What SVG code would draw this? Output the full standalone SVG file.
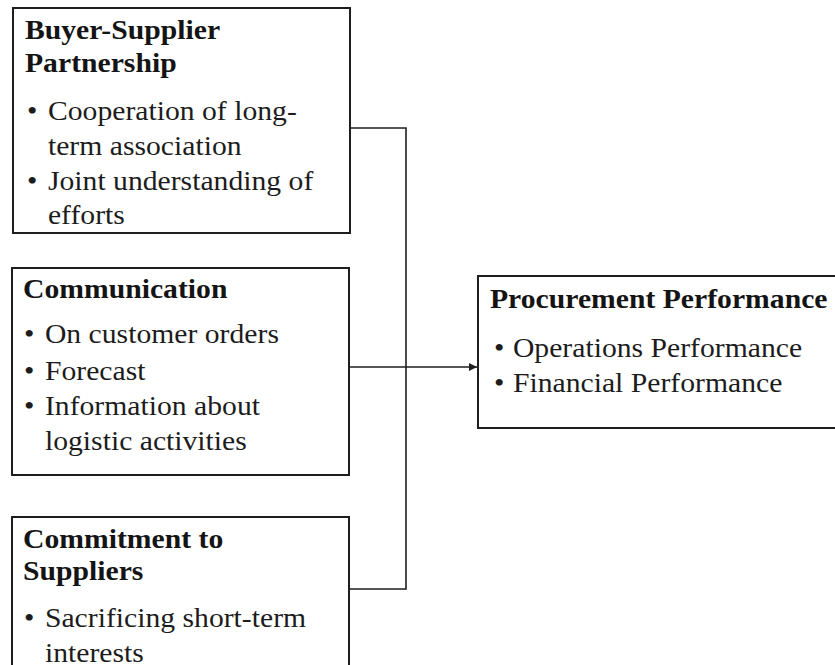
<svg xmlns="http://www.w3.org/2000/svg" width="835" height="665" viewBox="0 0 835 665">
  <style>
    .box { fill: #ffffff; stroke: #1e1e1e; stroke-width: 2; }
    .title { font-family: "Liberation Serif", "Times New Roman", serif; font-weight: bold; font-size: 26.5px; fill: #141414; }
    .item { font-family: "Liberation Serif", "Times New Roman", serif; font-size: 26.5px; fill: #1c1c1c; }
    .link { fill: none; stroke: #1e1e1e; stroke-width: 1.6; }
  </style>
  <defs>
    <marker id="arrow" viewBox="0 0 10 10" refX="10" refY="5" markerWidth="9" markerHeight="8" markerUnits="userSpaceOnUse" orient="auto">
      <path d="M0,0 L10,5 L0,10 z" fill="#1e1e1e"/>
    </marker>
  </defs>
  <rect width="835" height="665" fill="#ffffff"/>

  <!-- connectors -->
  <g id="connectors">
    <path class="link" d="M350,128 H406 V589 H349"/>
    <path class="link" d="M349,367 H477" marker-end="url(#arrow)"/>
  </g>

  <!-- Buyer-Supplier Partnership -->
  <g id="node-partnership">
    <rect class="box" x="13" y="8" width="337" height="225"/>
    <g transform="translate(25,0) scale(1.12,1)">
      <text class="title" x="0" y="39">Buyer-Supplier</text>
      <text class="title" x="0" y="72">Partnership</text>
      <text class="item" x="1.8" y="120">•</text>
      <text class="item" x="20.5" y="120">Cooperation of long-</text>
      <text class="item" x="20.5" y="155">term association</text>
      <text class="item" x="1.8" y="190">•</text>
      <text class="item" x="20.5" y="190">Joint understanding of</text>
      <text class="item" x="20.5" y="224">efforts</text>
    </g>
  </g>

  <!-- Communication -->
  <g id="node-communication">
    <rect class="box" x="12" y="268" width="337" height="207"/>
    <g transform="translate(23,0) scale(1.12,1)">
      <text class="title" x="0" y="298">Communication</text>
      <text class="item" x="0.9" y="343">•</text>
      <text class="item" x="19.6" y="343">On customer orders</text>
      <text class="item" x="0.9" y="380">•</text>
      <text class="item" x="19.6" y="380">Forecast</text>
      <text class="item" x="0.9" y="415">•</text>
      <text class="item" x="19.6" y="415">Information about</text>
      <text class="item" x="19.6" y="450">logistic activities</text>
    </g>
  </g>

  <!-- Commitment to Suppliers -->
  <g id="node-commitment">
    <rect class="box" x="12" y="517" width="337" height="170"/>
    <g transform="translate(23,0) scale(1.12,1)">
      <text class="title" x="0" y="548">Commitment to</text>
      <text class="title" x="0" y="580">Suppliers</text>
      <text class="item" x="0.9" y="627">•</text>
      <text class="item" x="19.6" y="627">Sacrificing short-term</text>
      <text class="item" x="19.6" y="662">interests</text>
    </g>
  </g>

  <!-- Procurement Performance -->
  <g id="node-performance">
    <rect class="box" x="478" y="276" width="370" height="152"/>
    <g transform="translate(490,0) scale(1.12,1)">
      <text class="title" x="0" y="308">Procurement Performance</text>
      <text class="item" x="3.6" y="357">•</text>
      <text class="item" x="20.5" y="357">Operations Performance</text>
      <text class="item" x="3.6" y="392">•</text>
      <text class="item" x="20.5" y="392">Financial Performance</text>
    </g>
  </g>
</svg>
